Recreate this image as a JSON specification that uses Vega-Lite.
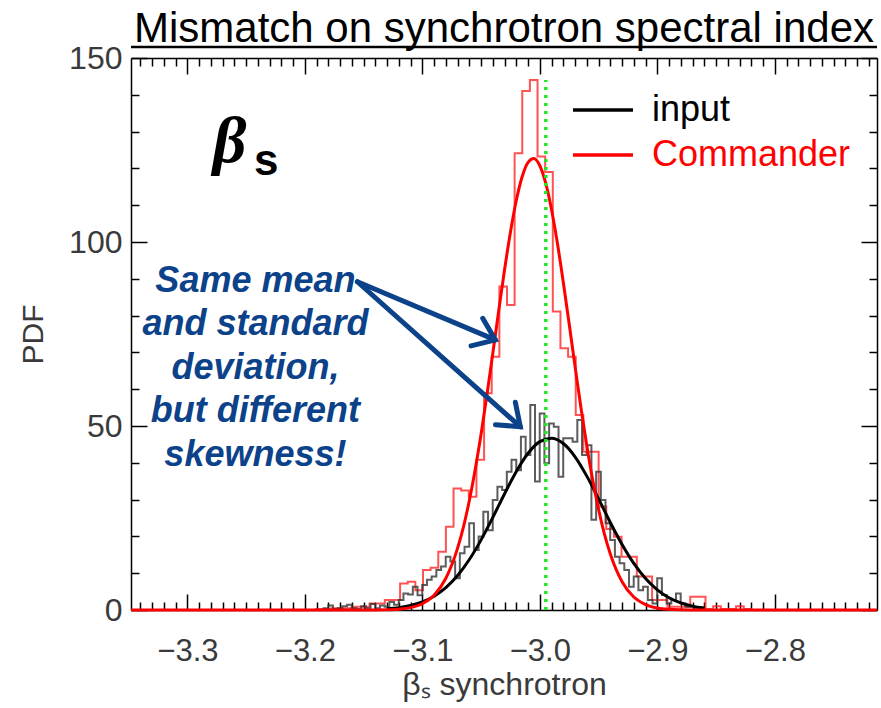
{
  "$schema": "https://vega.github.io/schema/vega-lite/v6.json",
  "width": 746,
  "height": 552,
  "autosize": "none",
  "padding": {"left": 131, "top": 58, "right": 4, "bottom": 98},
  "background": "white",
  "config": {"view": {"stroke": null}, "font": "Liberation Sans"},
  "title": {"text": "Mismatch on synchrotron spectral index", "font": "Liberation Sans", "fontSize": 42, "fontWeight": "normal", "color": "#000000", "anchor": "middle", "offset": -9},
  "datasets": {
    "commanderHist": [
      {"beta": -3.348, "pdf": 0},
      {"beta": -3.19045, "pdf": 0.3}, {"beta": -3.18395, "pdf": 0.3}, {"beta": -3.17745, "pdf": 0.5},
      {"beta": -3.17095, "pdf": 0.5}, {"beta": -3.16445, "pdf": 0.5}, {"beta": -3.15795, "pdf": 0.9},
      {"beta": -3.15145, "pdf": 0.9}, {"beta": -3.14495, "pdf": 1.8}, {"beta": -3.13845, "pdf": 1.8},
      {"beta": -3.13195, "pdf": 2.7}, {"beta": -3.12545, "pdf": 2.7}, {"beta": -3.11895, "pdf": 7.2},
      {"beta": -3.11245, "pdf": 7.7}, {"beta": -3.10595, "pdf": 5.4}, {"beta": -3.09945, "pdf": 10.9},
      {"beta": -3.09295, "pdf": 11.5}, {"beta": -3.08645, "pdf": 15.8}, {"beta": -3.07995, "pdf": 22.6},
      {"beta": -3.07345, "pdf": 33.0}, {"beta": -3.06695, "pdf": 32.5}, {"beta": -3.06045, "pdf": 30.8},
      {"beta": -3.05395, "pdf": 40.8}, {"beta": -3.04745, "pdf": 58.9}, {"beta": -3.04095, "pdf": 68.8},
      {"beta": -3.03445, "pdf": 87.9}, {"beta": -3.02795, "pdf": 82.9}, {"beta": -3.02145, "pdf": 124.1},
      {"beta": -3.01495, "pdf": 141.0}, {"beta": -3.00845, "pdf": 144.0}, {"beta": -3.00195, "pdf": 123.2},
      {"beta": -2.99545, "pdf": 119.0}, {"beta": -2.98895, "pdf": 81.1}, {"beta": -2.98245, "pdf": 71.1},
      {"beta": -2.97595, "pdf": 68.8}, {"beta": -2.96945, "pdf": 53.0}, {"beta": -2.96295, "pdf": 43.0},
      {"beta": -2.95645, "pdf": 43.0}, {"beta": -2.94995, "pdf": 28.1}, {"beta": -2.94345, "pdf": 22.0},
      {"beta": -2.93695, "pdf": 19.9}, {"beta": -2.93045, "pdf": 14.5}, {"beta": -2.92395, "pdf": 14.5},
      {"beta": -2.91745, "pdf": 9.1}, {"beta": -2.91095, "pdf": 9.1}, {"beta": -2.90445, "pdf": 2.7},
      {"beta": -2.89795, "pdf": 2.7}, {"beta": -2.89145, "pdf": 0.9}, {"beta": -2.88495, "pdf": 0.9},
      {"beta": -2.87845, "pdf": 0.9}, {"beta": -2.87195, "pdf": 3.6}, {"beta": -2.86545, "pdf": 3.6},
      {"beta": -2.85895, "pdf": 0.3}, {"beta": -2.85245, "pdf": 1.0}, {"beta": -2.84595, "pdf": 0.3},
      {"beta": -2.83945, "pdf": 0.3}, {"beta": -2.83295, "pdf": 1.0}, {"beta": -2.82645, "pdf": 0.3},
      {"beta": -2.81995, "pdf": 0}, {"beta": -2.713, "pdf": 0}
    ],
    "inputHist": [
      {"beta": -3.18809, "pdf": 0}, {"beta": -3.18409, "pdf": 0.5}, {"beta": -3.18009, "pdf": 1.2},
      {"beta": -3.17609, "pdf": 0.3}, {"beta": -3.17209, "pdf": 0.5}, {"beta": -3.16809, "pdf": 1.0},
      {"beta": -3.16409, "pdf": 1.4}, {"beta": -3.16009, "pdf": 0.5}, {"beta": -3.15609, "pdf": 0.3},
      {"beta": -3.15209, "pdf": 1.0}, {"beta": -3.14809, "pdf": 0.5}, {"beta": -3.14409, "pdf": 1.6},
      {"beta": -3.14009, "pdf": 0.5}, {"beta": -3.13609, "pdf": 1.2}, {"beta": -3.13209, "pdf": 0.9},
      {"beta": -3.12809, "pdf": 2.2}, {"beta": -3.12409, "pdf": 1.4}, {"beta": -3.12009, "pdf": 2.7},
      {"beta": -3.11609, "pdf": 4.5}, {"beta": -3.11209, "pdf": 4.2}, {"beta": -3.10809, "pdf": 6.3},
      {"beta": -3.10409, "pdf": 4.0}, {"beta": -3.10009, "pdf": 6.8}, {"beta": -3.09609, "pdf": 8.2},
      {"beta": -3.09209, "pdf": 9.1}, {"beta": -3.08809, "pdf": 10.9}, {"beta": -3.08409, "pdf": 11.8},
      {"beta": -3.08009, "pdf": 14.5}, {"beta": -3.07609, "pdf": 13.2}, {"beta": -3.07209, "pdf": 8.6},
      {"beta": -3.06809, "pdf": 15.4}, {"beta": -3.06409, "pdf": 17.2}, {"beta": -3.06009, "pdf": 23.6},
      {"beta": -3.05609, "pdf": 16.3}, {"beta": -3.05209, "pdf": 20.0}, {"beta": -3.04809, "pdf": 26.7},
      {"beta": -3.04409, "pdf": 21.7}, {"beta": -3.04009, "pdf": 29.9}, {"beta": -3.03609, "pdf": 33.5},
      {"beta": -3.03209, "pdf": 32.6}, {"beta": -3.02809, "pdf": 37.6}, {"beta": -3.02409, "pdf": 40.8},
      {"beta": -3.02009, "pdf": 38.0}, {"beta": -3.01609, "pdf": 47.1}, {"beta": -3.01209, "pdf": 42.1},
      {"beta": -3.00809, "pdf": 55.7}, {"beta": -3.00409, "pdf": 34.9}, {"beta": -3.00009, "pdf": 53.4},
      {"beta": -2.99609, "pdf": 39.9}, {"beta": -2.99209, "pdf": 50.7}, {"beta": -2.98809, "pdf": 49.8},
      {"beta": -2.98409, "pdf": 36.2}, {"beta": -2.98009, "pdf": 46.7}, {"beta": -2.97609, "pdf": 46.7},
      {"beta": -2.97209, "pdf": 45.7}, {"beta": -2.96809, "pdf": 51.6}, {"beta": -2.96409, "pdf": 42.1},
      {"beta": -2.96009, "pdf": 44.8}, {"beta": -2.95609, "pdf": 24.5}, {"beta": -2.95209, "pdf": 37.6},
      {"beta": -2.94809, "pdf": 29.9}, {"beta": -2.94409, "pdf": 23.6}, {"beta": -2.94009, "pdf": 19.0},
      {"beta": -2.93609, "pdf": 14.5}, {"beta": -2.93209, "pdf": 12.7}, {"beta": -2.92809, "pdf": 10.9},
      {"beta": -2.92409, "pdf": 6.3}, {"beta": -2.92009, "pdf": 9.1}, {"beta": -2.91609, "pdf": 5.4},
      {"beta": -2.91209, "pdf": 6.3}, {"beta": -2.90809, "pdf": 2.7}, {"beta": -2.90409, "pdf": 1.8},
      {"beta": -2.90009, "pdf": 8.6}, {"beta": -2.89609, "pdf": 4.1}, {"beta": -2.89209, "pdf": 1.8},
      {"beta": -2.88809, "pdf": 2.7}, {"beta": -2.88409, "pdf": 4.5}, {"beta": -2.88009, "pdf": 1.8},
      {"beta": -2.87609, "pdf": 0.9}, {"beta": -2.87209, "pdf": 0.9}, {"beta": -2.86809, "pdf": 0.5},
      {"beta": -2.86409, "pdf": 0}
    ],
    "fits": [
      {"series": "input", "beta": -3.13, "pdf": 0.32}, {"series": "input", "beta": -3.12, "pdf": 0.64},
      {"series": "input", "beta": -3.11, "pdf": 1.21}, {"series": "input", "beta": -3.10, "pdf": 2.18},
      {"series": "input", "beta": -3.09, "pdf": 3.73}, {"series": "input", "beta": -3.08, "pdf": 6.07},
      {"series": "input", "beta": -3.07, "pdf": 9.36}, {"series": "input", "beta": -3.06, "pdf": 13.71},
      {"series": "input", "beta": -3.05, "pdf": 19.06}, {"series": "input", "beta": -3.04, "pdf": 25.18},
      {"series": "input", "beta": -3.03, "pdf": 31.59}, {"series": "input", "beta": -3.02, "pdf": 37.64},
      {"series": "input", "beta": -3.01, "pdf": 42.59}, {"series": "input", "beta": -3.00, "pdf": 45.75},
      {"series": "input", "beta": -2.99, "pdf": 46.69}, {"series": "input", "beta": -2.98, "pdf": 45.24},
      {"series": "input", "beta": -2.97, "pdf": 41.63}, {"series": "input", "beta": -2.96, "pdf": 36.38},
      {"series": "input", "beta": -2.95, "pdf": 30.19}, {"series": "input", "beta": -2.94, "pdf": 23.79},
      {"series": "input", "beta": -2.93, "pdf": 17.81}, {"series": "input", "beta": -2.92, "pdf": 12.66},
      {"series": "input", "beta": -2.91, "pdf": 8.54}, {"series": "input", "beta": -2.90, "pdf": 5.48},
      {"series": "input", "beta": -2.89, "pdf": 3.33}, {"series": "input", "beta": -2.88, "pdf": 1.93},
      {"series": "input", "beta": -2.87, "pdf": 1.06}, {"series": "input", "beta": -2.86, "pdf": 0.55},
      {"series": "Commander", "beta": -3.348, "pdf": 0}, {"series": "Commander", "beta": -3.17, "pdf": 0},
      {"series": "Commander", "beta": -3.15, "pdf": 0.01}, {"series": "Commander", "beta": -3.14, "pdf": 0.02},
      {"series": "Commander", "beta": -3.13, "pdf": 0.07}, {"series": "Commander", "beta": -3.12, "pdf": 0.23},
      {"series": "Commander", "beta": -3.11, "pdf": 0.65}, {"series": "Commander", "beta": -3.10, "pdf": 1.70},
      {"series": "Commander", "beta": -3.09, "pdf": 4.02}, {"series": "Commander", "beta": -3.08, "pdf": 8.62},
      {"series": "Commander", "beta": -3.07, "pdf": 16.81}, {"series": "Commander", "beta": -3.065, "pdf": 22.6},
      {"series": "Commander", "beta": -3.06, "pdf": 29.76}, {"series": "Commander", "beta": -3.055, "pdf": 38.2},
      {"series": "Commander", "beta": -3.05, "pdf": 47.83}, {"series": "Commander", "beta": -3.045, "pdf": 58.5},
      {"series": "Commander", "beta": -3.04, "pdf": 69.80}, {"series": "Commander", "beta": -3.035, "pdf": 81.3},
      {"series": "Commander", "beta": -3.03, "pdf": 92.51}, {"series": "Commander", "beta": -3.025, "pdf": 102.7},
      {"series": "Commander", "beta": -3.02, "pdf": 111.33}, {"series": "Commander", "beta": -3.015, "pdf": 117.8},
      {"series": "Commander", "beta": -3.01, "pdf": 121.66}, {"series": "Commander", "beta": -3.005, "pdf": 122.7},
      {"series": "Commander", "beta": -3.00, "pdf": 120.72}, {"series": "Commander", "beta": -2.995, "pdf": 116.0},
      {"series": "Commander", "beta": -2.99, "pdf": 108.78}, {"series": "Commander", "beta": -2.985, "pdf": 99.6},
      {"series": "Commander", "beta": -2.98, "pdf": 89.01}, {"series": "Commander", "beta": -2.975, "pdf": 77.7},
      {"series": "Commander", "beta": -2.97, "pdf": 66.14}, {"series": "Commander", "beta": -2.965, "pdf": 54.98},
      {"series": "Commander", "beta": -2.96, "pdf": 44.62}, {"series": "Commander", "beta": -2.955, "pdf": 35.3},
      {"series": "Commander", "beta": -2.95, "pdf": 27.34}, {"series": "Commander", "beta": -2.945, "pdf": 20.6},
      {"series": "Commander", "beta": -2.94, "pdf": 15.21}, {"series": "Commander", "beta": -2.93, "pdf": 7.68},
      {"series": "Commander", "beta": -2.92, "pdf": 3.52}, {"series": "Commander", "beta": -2.91, "pdf": 1.47},
      {"series": "Commander", "beta": -2.90, "pdf": 0.55}, {"series": "Commander", "beta": -2.89, "pdf": 0.19},
      {"series": "Commander", "beta": -2.88, "pdf": 0.06}, {"series": "Commander", "beta": -2.87, "pdf": 0.02},
      {"series": "Commander", "beta": -2.86, "pdf": 0}, {"series": "Commander", "beta": -2.713, "pdf": 0}
    ],
    "one": [{}]
  },
  "layer": [
    {
      "data": {"name": "commanderHist"},
      "mark": {"type": "line", "interpolate": "step-after", "stroke": "#ff1a1a", "strokeWidth": 2, "opacity": 0.75},
      "encoding": {
        "x": {"field": "beta", "type": "quantitative", "scale": {"domain": [-3.348, -2.713], "nice": false, "zero": false},
          "axis": {"orient": "top", "title": null, "labels": false, "grid": false, "tickCount": 64,
            "tickSize": {"condition": {"test": "abs(datum.value*10 - round(datum.value*10)) < 0.001", "value": -16}, "value": -8},
            "tickColor": "#000000", "tickWidth": 1.5, "domainColor": "#000000", "domainWidth": 1.5}},
        "y": {"field": "pdf", "type": "quantitative", "scale": {"domain": [0, 150], "nice": false},
          "axis": {"orient": "right", "title": null, "labels": false, "grid": false, "tickCount": 15,
            "tickSize": {"condition": {"test": "datum.value % 50 === 0", "value": -16}, "value": -8},
            "tickColor": "#000000", "tickWidth": 1.5, "domainColor": "#000000", "domainWidth": 1.5}}
      }
    },
    {
      "data": {"name": "inputHist"},
      "mark": {"type": "line", "interpolate": "step-after", "stroke": "#333333", "strokeWidth": 2, "opacity": 0.8},
      "encoding": {
        "x": {"field": "beta", "type": "quantitative",
          "axis": {"orient": "bottom", "title": "βₛ synchrotron", "titleFont": "Liberation Sans", "titleFontSize": 32, "titleFontWeight": "normal", "titleColor": "#3a3a3a", "titlePadding": -5,
            "grid": false, "tickCount": 64, "format": ".1f",
            "labelExpr": "abs(datum.value*10 - round(datum.value*10)) < 0.001 ? datum.label : ''",
            "labelFont": "Liberation Sans", "labelFontSize": 31, "labelColor": "#3a3a3a", "labelPadding": 42,
            "labelOverlap": false, "labelFlush": false, "labelBound": false,
            "tickSize": {"condition": {"test": "abs(datum.value*10 - round(datum.value*10)) < 0.001", "value": -16}, "value": -8},
            "tickColor": "#000000", "tickWidth": 1.5, "domainColor": "#000000", "domainWidth": 1.5}},
        "y": {"field": "pdf", "type": "quantitative",
          "axis": {"orient": "left", "title": "PDF", "titleFont": "Liberation Sans", "titleFontSize": 30, "titleFontWeight": "normal", "titleColor": "#3a3a3a", "titlePadding": 20,
            "grid": false, "tickCount": 15,
            "labelExpr": "datum.value % 50 === 0 ? datum.label : ''",
            "labelFont": "Liberation Sans", "labelFontSize": 32, "labelColor": "#3a3a3a", "labelPadding": 25,
            "labelOverlap": false, "labelFlush": false, "labelBound": false,
            "tickSize": {"condition": {"test": "datum.value % 50 === 0", "value": -16}, "value": -8},
            "tickColor": "#000000", "tickWidth": 1.5, "domainColor": "#000000", "domainWidth": 1.5}}
      }
    },
    {
      "data": {"name": "fits"},
      "mark": {"type": "line", "interpolate": "monotone", "strokeWidth": 3},
      "encoding": {
        "x": {"field": "beta", "type": "quantitative", "axis": null},
        "y": {"field": "pdf", "type": "quantitative", "axis": null},
        "color": {"field": "series", "type": "nominal",
          "scale": {"domain": ["input", "Commander"], "range": ["#000000", "#ff0000"]},
          "legend": {"title": null, "orient": "none", "legendX": 454, "legendY": 34, "padding": 0, "offset": 0,
            "symbolType": "M -2 0 L 2 0", "symbolSize": 900, "symbolStrokeWidth": 3.5,
            "labelFont": "Liberation Sans", "labelFontSize": 36, "labelOffset": 31, "labelLimit": 0, "rowPadding": 9,
            "encode": {"labels": {"update": {"fill": [{"test": "datum.label === 'Commander'", "value": "#ff0000"}, {"value": "#000000"}]}}}}}
      }
    },
    {
      "data": {"name": "one"},
      "mark": {"type": "rule", "color": "#22e622", "strokeWidth": 3.5, "strokeDash": [3, 5]},
      "encoding": {
        "x": {"datum": -2.9949, "type": "quantitative", "axis": null},
        "y": {"datum": 0, "type": "quantitative", "axis": null},
        "y2": {"datum": 144}
      }
    },
    {
      "data": {"name": "one"},
      "mark": {"type": "rule", "color": "#000000", "strokeWidth": 2.5},
      "encoding": {
        "x": {"datum": -3.348, "type": "quantitative", "axis": null},
        "x2": {"datum": -2.713},
        "y": {"datum": 153, "type": "quantitative", "axis": null}
      }
    },
    {
      "data": {"name": "one"},
      "mark": {"type": "text", "text": "β", "font": "Liberation Serif", "fontSize": 66, "fontWeight": "bold", "fontStyle": "italic", "align": "left", "baseline": "alphabetic", "color": "#000000"},
      "encoding": {
        "x": {"datum": -3.2785, "type": "quantitative", "axis": null},
        "y": {"datum": 121.7, "type": "quantitative", "axis": null}
      }
    },
    {
      "data": {"name": "one"},
      "mark": {"type": "text", "text": "s", "font": "Liberation Sans", "fontSize": 44, "fontWeight": "bold", "align": "left", "baseline": "alphabetic", "color": "#000000"},
      "encoding": {
        "x": {"datum": -3.2432, "type": "quantitative", "axis": null},
        "y": {"datum": 118.2, "type": "quantitative", "axis": null}
      }
    },
    {
      "data": {"name": "one"},
      "mark": {"type": "text", "text": ["Same mean", "and standard", "deviation,", "but different", "skewness!"], "lineHeight": 43.5, "font": "Liberation Sans", "fontSize": 36, "fontWeight": "bold", "fontStyle": "italic", "align": "center", "baseline": "alphabetic", "color": "#0b4289"},
      "encoding": {
        "x": {"datum": -3.2421, "type": "quantitative", "axis": null},
        "y": {"datum": 86.5, "type": "quantitative", "axis": null}
      }
    },
    {
      "data": {"name": "one"},
      "mark": {"type": "rule", "color": "#0b4289", "strokeWidth": 5, "strokeCap": "round"},
      "encoding": {
        "x": {"datum": -3.1553, "type": "quantitative", "axis": null},
        "y": {"datum": 89.2, "type": "quantitative", "axis": null},
        "x2": {"datum": -3.0379},
        "y2": {"datum": 73.4}
      }
    },
    {
      "data": {"name": "one"},
      "mark": {"type": "rule", "color": "#0b4289", "strokeWidth": 5, "strokeCap": "round"},
      "encoding": {
        "x": {"datum": -3.1553, "type": "quantitative", "axis": null},
        "y": {"datum": 89.2, "type": "quantitative", "axis": null},
        "x2": {"datum": -3.0166},
        "y2": {"datum": 49.8}
      }
    },
    {
      "data": {"name": "one"},
      "mark": {"type": "point", "shape": "M -1 -0.75 L 0 0 L -1 0.75", "filled": false, "stroke": "#0b4289", "strokeWidth": 5, "size": 1600, "angle": 22.9, "opacity": 1, "strokeCap": "round", "strokeJoin": "miter"},
      "encoding": {
        "x": {"datum": -3.0379, "type": "quantitative", "axis": null},
        "y": {"datum": 73.4, "type": "quantitative", "axis": null}
      }
    },
    {
      "data": {"name": "one"},
      "mark": {"type": "point", "shape": "M -1 -0.75 L 0 0 L -1 0.75", "filled": false, "stroke": "#0b4289", "strokeWidth": 5, "size": 1600, "angle": 41.6, "opacity": 1, "strokeCap": "round", "strokeJoin": "miter"},
      "encoding": {
        "x": {"datum": -3.0166, "type": "quantitative", "axis": null},
        "y": {"datum": 49.8, "type": "quantitative", "axis": null}
      }
    }
  ],
  "resolve": {"axis": {"x": "independent", "y": "independent"}}
}
